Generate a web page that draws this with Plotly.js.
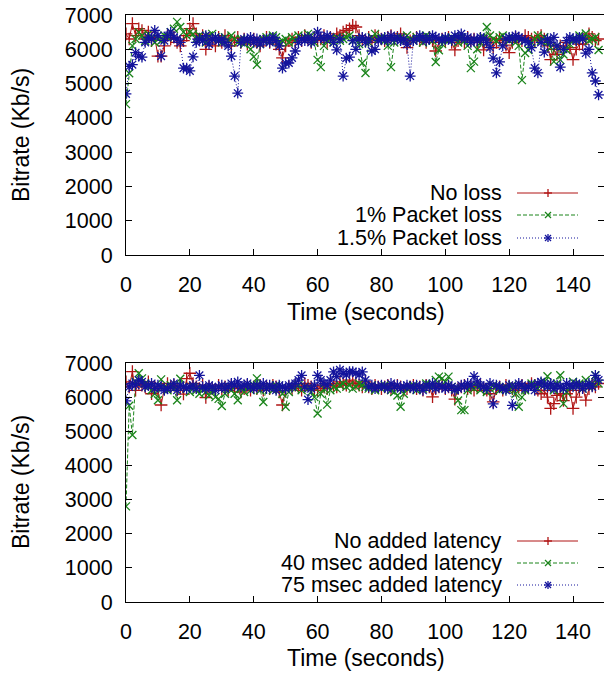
<!DOCTYPE html>
<html><head><meta charset="utf-8">
<script src="https://cdn.plot.ly/plotly-3.0.1.min.js"></script>
<style>html,body{margin:0;padding:0;background:#fff;overflow:hidden}#chart{width:604px;height:673px}</style>
</head><body><div id="chart"></div>
<script>
// x tick labels
var xTicks = [0, 20, 40, 60, 80, 100, 120, 140];
var yTicks = [0, 1000, 2000, 3000, 4000, 5000, 6000, 7000];

// Top panel: packet loss (Kb/s per second)
var noLoss = [
6450,6300,6750,6400,6600,6550,6300,6500,6250,6350,
5800,5800,6100,6400,6300,6350,6200,6100,6250,6400,
6600,6750,6450,6300,6400,6000,6300,6250,6100,6350,
6200,6400,6300,6100,6250,6350,6200,6300,6150,6250,
6300,6200,6100,6250,6350,6200,6300,6150,6000,5750,
6100,6250,6300,6200,6350,6250,6400,6300,6200,6350,
6250,6300,6400,6200,6350,6300,6450,6400,6500,6550,
6600,6700,6650,6400,6300,6250,6350,6200,6400,6350,
6300,6250,6350,6400,6300,6350,6450,6300,6050,6250,
6300,6350,6250,6300,6200,6350,6250,5950,6200,6300,
6250,6350,6200,5980,6250,6300,6200,6350,6250,6300,
6200,6300,5980,6250,6300,6050,6200,6300,6250,6120,
5900,6200,6350,6300,6250,6400,6350,6300,6250,6350,
6400,6300,6100,5700,6000,5850,6100,6000,6200,6050,
5700,6000,6150,6150,6300,6450,6350,6250,6300];
var loss1 = [
4400,5300,6100,6300,6500,6400,6250,6450,6350,6200,
6300,6250,6400,6350,6500,6600,6800,6650,6500,6400,
6500,6450,6300,6400,6350,6200,6400,6450,6350,6300,
6200,6350,6250,6400,6300,6200,6300,6150,6250,6000,
5780,5550,6150,6300,6350,6250,6400,6350,6200,6250,
6300,6200,6350,6250,6400,6300,6350,6450,6400,6200,
5690,5480,6100,6250,6300,6200,6350,6250,6300,6350,
6400,6250,6300,6150,5600,5310,6200,6350,6450,6300,
6350,6250,6100,5480,6200,6300,6350,6250,6400,6300,
6250,6350,6300,6200,6400,6350,6250,5630,5970,6150,
6300,6250,6350,6300,6200,6350,6250,6100,5450,5640,
6000,6200,6350,6650,6400,6300,6250,6350,6400,6300,
6250,6350,6200,6100,5100,5890,5980,6200,6300,6400,
6250,6350,6200,6050,5640,6100,5690,5850,5980,6150,
6250,6300,6400,6350,6460,6250,6300,6350,5980];
var loss15 = [
4700,5500,5550,5900,5800,5770,6200,6350,6300,6550,
6400,5800,6250,6400,6500,6350,6300,6200,5450,5450,
5370,5780,6200,6300,6250,6400,6150,6300,6350,6250,
6300,6200,6100,5800,5220,4720,6200,6300,6250,6350,
6200,6300,6150,6250,6300,6200,6350,6250,6100,5450,
5600,5600,5750,5950,6200,6300,6250,6350,6200,6300,
6500,6350,6300,6400,6350,6200,5980,6300,5220,5740,
5770,6250,6000,6300,6350,6200,6300,5950,6000,6250,
6300,6350,6250,6400,6300,6350,6250,6300,6150,5220,
6250,6300,6400,6350,6250,6300,6400,6350,6300,6250,
6350,6300,6250,6400,6350,6450,6300,6350,6200,6300,
6250,6350,6300,6200,6050,5740,5310,5630,6100,6300,
6350,6300,6400,6350,6300,6250,6200,6050,5450,5310,
6200,5920,6300,6200,6350,6100,5480,6000,6250,6350,
6300,6250,6350,6300,5890,6000,5310,5075,4670];

// Bottom panel: added latency
var lat0 = [
6450,6300,6750,6200,6400,6350,6300,6450,6100,6300,
6200,5770,6250,6400,6300,6350,6200,6300,6090,6540,
6700,6400,6300,6250,6350,5990,6300,6250,6200,6350,
6250,6300,6200,6350,6250,6300,6150,6250,6350,6200,
6300,6250,6350,6200,6300,6250,6350,6300,6150,5770,
6200,6300,6250,6350,6300,6200,6400,6350,6300,6250,
6200,6350,6300,6250,6400,6350,6300,6450,6400,6350,
6500,6450,6400,6350,6300,6450,6300,6250,6350,6300,
6250,6300,6350,6250,6300,6350,6300,6200,6250,6300,
6350,6250,6300,6200,6350,6300,6010,6250,6300,6350,
6250,6300,6200,5940,6250,6300,6350,6250,6300,6200,
6300,6350,6250,6200,6100,5860,6250,6300,6200,6350,
6300,6250,6200,6300,6350,6250,6300,6400,6350,6200,
6100,6200,6000,5670,5810,6050,6100,5900,6100,6200,
5670,6000,6200,6300,5910,6250,6350,6300,6400];
var lat40 = [
2800,5750,4890,6450,6700,6550,6400,6300,6200,6100,
5910,6520,6300,6200,6350,6250,5910,6540,6300,6250,
6150,6300,6200,6100,6250,6150,6050,6200,6000,5950,
5740,6100,6300,6200,6100,5910,6250,6150,6300,6200,
6350,6550,6200,5860,6250,6300,6200,6350,6250,6100,
5720,6150,6300,6250,6350,6200,6300,6250,6150,6000,
5520,6100,6250,5780,6200,6300,6250,6350,6400,6300,
6350,6250,6300,6400,6350,6300,6250,6350,6200,6300,
6250,6350,6300,6200,6150,6050,5720,6100,6250,6300,
6350,6200,6300,6250,6400,6350,6300,6500,6600,6550,
6450,6600,6300,6250,5900,5620,5620,6200,6300,6250,
6350,6200,6300,6150,6250,6350,6300,6200,6250,6300,
6200,6350,6100,5720,6000,6200,6300,6400,6350,6250,
6350,6450,6610,6300,6200,6400,6640,5810,6150,6300,
6450,6350,6400,6250,6500,6300,6400,6640,6400];
var lat75 = [
5890,6300,6400,6350,6500,6450,6300,6350,6400,6250,
6350,6300,6200,6250,6300,6400,6200,6350,6300,6250,
6300,6350,6250,6640,6300,6250,6350,6300,6200,6300,
6350,6250,6300,6400,6350,6450,6300,6350,6400,6300,
6250,6350,6300,6400,6250,6350,6300,6200,6350,6300,
6250,6350,6300,6400,6500,6640,6300,5930,6250,6350,
6640,6500,6400,6350,6500,6740,6600,6800,6700,6650,
6750,6750,6700,6650,6740,6500,6300,6350,6250,6300,
6350,6300,6250,6400,6300,6350,6250,6300,6350,6300,
6250,6350,6300,6200,6350,6300,6400,6250,6350,6300,
6250,6350,6300,6200,6250,6350,6300,6400,6350,6610,
6450,6350,6300,6250,6400,5800,6350,6300,6250,6200,
6350,5760,6300,6400,6350,6250,6300,6350,6200,6400,
6450,6350,6300,6400,6250,6350,6300,6250,6400,6350,
6300,6400,6350,6250,6350,6400,6300,6640,6500];

var topNames = ["No loss", "1% Packet loss", "1.5% Packet loss"];
var bottomNames = ["No added latency", "40 msec added latency", "75 msec added latency"];

var RED = "#b01414", GREEN = "#1a841a", BLUE = "#14149c";
var FONT = "Liberation Sans, Arial, Helvetica, sans-serif";
var FS = 21.5, FS_TITLE = 23, FS_LEG = 21.5;

var W = 604, H = 673, L = 126, R = 0, T = 15, B = 71;
var PW = W - L - R, PH = H - T - B;
function px(x) { return (x - L) / PW; }
function py(y) { return (H - B - y) / PH; }

var seconds = noLoss.map(function (_, i) { return i; });

var styles = [
  {color: RED, dash: "solid", symbol: "cross-thin", size: 9},
  {color: GREEN, dash: "4px,2px", symbol: "x-thin", size: 8},
  {color: BLUE, dash: "1px,2px", symbol: "asterisk", size: 9}
];

function tr(y, name, s, xa, ya) {
  return {
    x: seconds, y: y, name: name, type: "scatter", mode: "lines+markers",
    xaxis: xa, yaxis: ya, showlegend: false, cliponaxis: true,
    line: {color: s.color, width: 1, dash: s.dash},
    marker: {symbol: s.symbol, size: s.size, color: s.color, line: {color: s.color, width: 1.3}}
  };
}

var data = [
  tr(noLoss, topNames[0], styles[0], "x", "y"),
  tr(loss1, topNames[1], styles[1], "x", "y"),
  tr(loss15, topNames[2], styles[2], "x", "y"),
  tr(lat0, bottomNames[0], styles[0], "x2", "y2"),
  tr(lat40, bottomNames[1], styles[1], "x2", "y2"),
  tr(lat75, bottomNames[2], styles[2], "x2", "y2")
];

function xax(anchor) {
  return {
    anchor: anchor, domain: [0, 1], range: [0, 149.7],
    tickmode: "array", tickvals: xTicks, ticktext: xTicks.map(String),
    ticks: "inside", ticklen: 6, tickwidth: 1, tickcolor: "#000",
    showline: true, linecolor: "#000", linewidth: 1, mirror: "ticks",
    showgrid: false, zeroline: false, ticklabelstandoff: 10,
    tickfont: {family: FONT, size: FS, color: "#000"}
  };
}
function yax(anchor, dom) {
  return {
    anchor: anchor, domain: dom, range: [0, 7000],
    tickmode: "array", tickvals: yTicks, ticktext: yTicks.map(String),
    ticks: "inside", ticklen: 6, tickwidth: 1, tickcolor: "#000",
    showline: true, linecolor: "#000", linewidth: 1, mirror: "ticks",
    showgrid: false, zeroline: false, ticklabelstandoff: 8,
    tickfont: {family: FONT, size: FS, color: "#000"}
  };
}

var topDom = [py(255), 1];
var botDom = [0, py(363)];

var annotations = [], shapes = [];
function txt(t, x, y, xanchor, angle, size) {
  annotations.push({text: t, xref: "paper", yref: "paper", x: px(x), y: py(y),
    xanchor: xanchor, yanchor: "middle", showarrow: false, textangle: angle || 0,
    borderpad: 0, font: {family: FONT, size: size, color: "#000"}});
}
txt("Bitrate (Kb/s)", 21, 135, "center", -90, FS_TITLE);
txt("Bitrate (Kb/s)", 21, 482, "center", -90, FS_TITLE);
txt("Time (seconds)", 366, 312, "center", 0, FS_TITLE);
txt("Time (seconds)", 366, 658, "center", 0, FS_TITLE);

function legendRows(names, rows) {
  for (var i = 0; i < 3; i++) {
    var s = styles[i], yy = rows[i];
    txt(names[i], 503, yy, "right", 0, FS_LEG);
    shapes.push({type: "line", xref: "paper", yref: "paper", x0: px(517), x1: px(578),
      y0: py(yy), y1: py(yy), line: {color: s.color, width: 1, dash: s.dash}});
    var segs = [];
    if (i === 0) segs = [[-4, 0, 4, 0], [0, -4, 0, 4]];
    if (i === 1) segs = [[-3, -3, 3, 3], [-3, 3, 3, -3]];
    if (i === 2) segs = [[-4, 0, 4, 0], [0, -4, 0, 4], [-3, -3, 3, 3], [-3, 3, 3, -3]];
    segs.forEach(function (g) {
      shapes.push({type: "line", xref: "paper", yref: "paper",
        xsizemode: "pixel", ysizemode: "pixel", xanchor: px(548), yanchor: py(yy),
        x0: g[0], x1: g[2], y0: g[1], y1: g[3], line: {color: s.color, width: 1.3}});
    });
  }
}
legendRows(topNames, [193, 215, 238]);
legendRows(bottomNames, [541, 563, 585]);

var layout = {
  width: W, height: H, margin: {l: L, r: R, t: T, b: B, pad: 0},
  paper_bgcolor: "#fff", plot_bgcolor: "#fff", showlegend: false,
  font: {family: FONT, size: FS, color: "#000"},
  xaxis: xax("y"), yaxis: yax("x", topDom),
  xaxis2: xax("y2"), yaxis2: yax("x2", botDom),
  annotations: annotations, shapes: shapes
};

Plotly.newPlot("chart", data, layout, {staticPlot: true, displayModeBar: false});
</script></body></html>
